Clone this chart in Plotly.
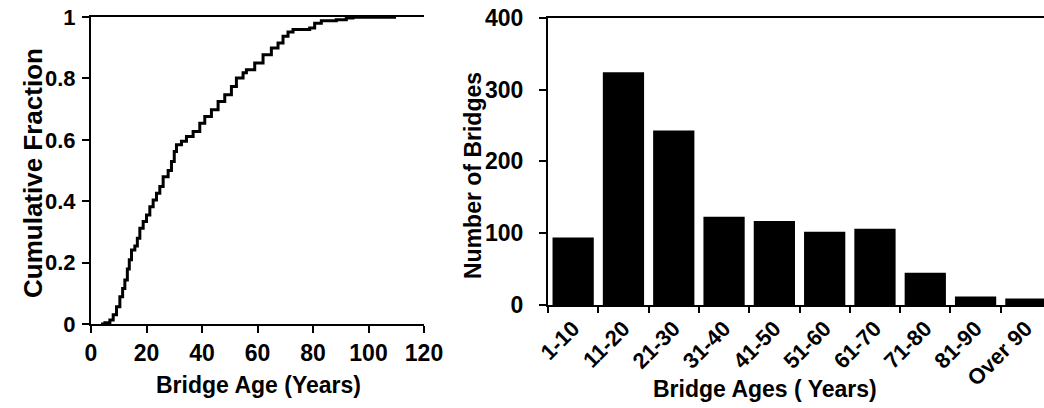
import plotly.graph_objects as go

# Left chart: cumulative fraction vs bridge age
age = [3.6, 5.0, 6.8, 8.0, 9.2, 10.4, 11.4, 12.2, 13.1, 13.8, 14.6, 15.8, 16.7, 17.6,
       18.8, 20.0, 21.2, 22.4, 23.6, 24.8, 26.0, 27.8, 29.0, 30.0, 30.8, 32.6, 34.4,
       36.8, 39.2, 41.0, 43.4, 45.8, 48.2, 50.6, 52.4, 54.8, 56.0, 59.0, 62.0, 65.0,
       67.4, 69.2, 71.0, 72.8, 77.6, 78.8, 80.6, 83.0, 88.4, 92.0, 94.4, 109.4]
cum_frac = [0.0, 0.004, 0.013, 0.030, 0.056, 0.089, 0.116, 0.143, 0.179, 0.209, 0.241,
            0.254, 0.279, 0.312, 0.334, 0.355, 0.382, 0.404, 0.426, 0.448, 0.480, 0.500,
            0.529, 0.562, 0.584, 0.595, 0.611, 0.627, 0.654, 0.676, 0.698, 0.725, 0.747,
            0.774, 0.801, 0.818, 0.828, 0.850, 0.877, 0.899, 0.915, 0.937, 0.951, 0.959,
            0.959, 0.964, 0.980, 0.988, 0.991, 0.997, 0.999, 1.0]

# Right chart: histogram of bridge ages
age_bins = ["1-10", "11-20", "21-30", "31-40", "41-50", "51-60", "61-70", "71-80", "81-90", "Over 90"]
bridge_counts = [94, 324, 243, 123, 117, 102, 106, 45, 12, 9]

left_x_ticks = [0, 20, 40, 60, 80, 100, 120]
left_y_ticks = [0, 0.2, 0.4, 0.6, 0.8, 1]
right_y_ticks = [0, 100, 200, 300, 400]

W, H = 1044, 408
FONT = "Liberation Sans, Arial, sans-serif"

fig = go.Figure()
fig.add_trace(go.Scatter(x=age, y=cum_frac, mode="lines", line=dict(color="black", width=3, shape="hv"),
                         xaxis="x", yaxis="y", showlegend=False))
fig.add_trace(go.Bar(x=age_bins, y=bridge_counts, marker=dict(color="black", line=dict(width=0)),
                     xaxis="x2", yaxis="y2", showlegend=False))

def px_x(p):
    return p / W

def px_y(p):
    return 1 - p / H

def font(size):
    return dict(family=FONT, size=size, color="black", weight="bold")

axis_common = dict(showgrid=False, zeroline=False, showline=True, linecolor="black", linewidth=2,
                   ticks="outside", tickcolor="black", tickwidth=2, ticklen=7, automargin=False,
                   ticklabeloverflow="allow")

def title(text, x, y, size, angle=0):
    return dict(text=text, x=px_x(x), y=px_y(y), xref="paper", yref="paper", xanchor="center",
                yanchor="middle", textangle=angle, showarrow=False, font=font(size))

fig.update_layout(
    template="none",
    width=W, height=H, margin=dict(l=0, r=0, t=0, b=0, pad=0), autosize=False,
    paper_bgcolor="white", plot_bgcolor="white", bargap=0.18,
    xaxis=dict(domain=[px_x(91), px_x(424)], range=[0, 120], tickvals=left_x_ticks,
               mirror=True, anchor="y", tickfont=font(23), **axis_common),
    yaxis=dict(domain=[px_y(324), px_y(17)], range=[0, 1], tickvals=left_y_ticks,
               mirror=False, anchor="x", tickfont=font(22), ticklabelstandoff=2, **axis_common),
    xaxis2=dict(domain=[px_x(548), 1.0], range=[-0.5, 9.36], type="category", tickangle=-45,
                mirror=True, anchor="y2", tickfont=font(22), tickson="boundaries",
                **{**axis_common, "ticklen": 6}),
    yaxis2=dict(domain=[px_y(305), px_y(17.7)], range=[0, 400], tickvals=right_y_ticks,
                mirror=False, anchor="x2", tickfont=font(23), ticklabelstandoff=11, **axis_common),
    annotations=[
        title("Bridge Age (Years)", 258, 385, 23),
        title("Cumulative Fraction", 33, 173, 26, -90),
        title("Bridge Ages ( Years)", 765, 389, 23),
        title("Number of Bridges", 473, 176, 23, -90),
    ],
)

fig.write_html("out.html", config={"displayModeBar": False},
               post_script="document.body.style.margin='0px';document.body.style.overflow='hidden';")
